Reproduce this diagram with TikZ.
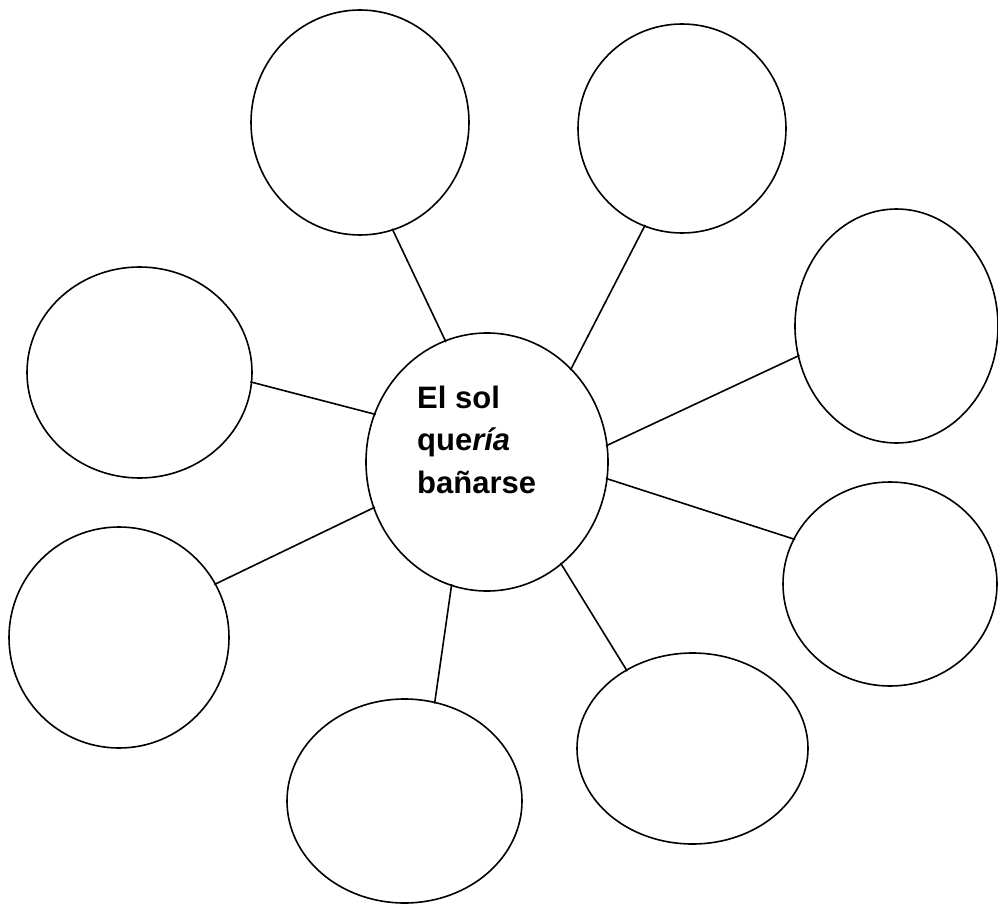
\documentclass[tikz,border=0pt]{standalone}
\usepackage{fontspec}
\newfontfamily\arialfont{Liberation Sans}
\usetikzlibrary{shapes.geometric}
\begin{document}
\begin{tikzpicture}[x=1pt,y=-1pt,
  bubble/.style={draw=black, ellipse, line width=1.6pt, inner sep=0pt},
  link/.style={draw=black, line width=1.6pt, shorten <=-2pt, shorten >=-2pt},
  label/.style={anchor=base west, align=left, inner sep=0pt,
    font=\arialfont\bfseries\fontsize{31}{42.5}\selectfont}]
\useasboundingbox (0,0) rectangle (998,904);
% bubbles
\node[bubble, minimum width=218pt, minimum height=225pt] (TL) at (360,122.5) {};
\node[bubble, minimum width=208pt, minimum height=209pt] (TR) at (682,128.5) {};
\node[bubble, minimum width=203pt, minimum height=234pt] (R)  at (896.5,326) {};
\node[bubble, minimum width=225pt, minimum height=211pt] (L)  at (139.5,372.5) {};
\node[bubble, minimum width=242pt, minimum height=258pt] (C)  at (487,462) {};
\node[bubble, minimum width=220pt, minimum height=221pt] (LL) at (119,637.5) {};
\node[bubble, minimum width=214pt, minimum height=204pt] (LR) at (890,584) {};
\node[bubble, minimum width=235pt, minimum height=204pt] (BC) at (404.5,801) {};
\node[bubble, minimum width=231pt, minimum height=191pt] (BR) at (692.5,748.5) {};
% text (base anchor = baseline of the last line)
\node[label] (T) at (417,493) {El sol\\que\textit{ría}\\bañarse};
% connectors
\draw[link] (TL.-73.5) -- (C.109.4);
\draw[link] (TR.-111.4) -- (C.48.8);
\draw[link] (R.-163.8) -- (C.8.9);
\draw[link] (L.-5.3) -- (C.157.1);
\draw[link] (LL.29.6) -- (C.-158);
\draw[link] (BC.73.7) -- (C.-106.3);
\draw[link] (BR.130.1) -- (C.-54.2);
\draw[link] (LR.155.2) -- (C.-8.5);
\end{tikzpicture}
\end{document}
